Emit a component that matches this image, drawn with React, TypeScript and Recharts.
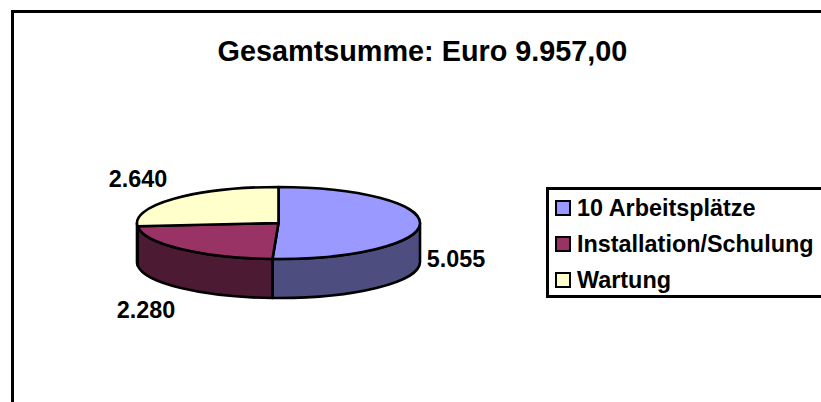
import React from 'react';
import { PieChart, Pie, Legend } from 'recharts';

const categories = ['10 Arbeitsplätze', 'Installation/Schulung', 'Wartung'];
const amounts = [5055, 2280, 2640];
const amountLabels = ['5.055', '2.280', '2.640'];
const topColors = ['#9999FF', '#993366', '#FFFFCC'];
const sideColors = ['#4D4D80', '#4D1A33', '#808066'];
// label offsets from the rim point at each slice's mid angle
const labelOffsets = [[36, 35], [-35, 61], [-36, -20]];

const pieData = categories.map((name, i) => ({
  name,
  value: amounts[i],
  fill: topColors[i],
  sideFill: sideColors[i],
  labelText: amountLabels[i],
  labelOffset: labelOffsets[i],
}));

const FONT = '"Liberation Sans", Arial, sans-serif';
const SQUASH = 0.2545;
const DEPTH = 39;
const LINE = 2.6;
const RAD = Math.PI / 180;

const rimPoint = (cx: number, cy: number, r: number, deg: number) => [
  cx + r * Math.cos(deg * RAD),
  cy - r * SQUASH * Math.sin(deg * RAD),
];

// flat pie slice with the side wall below it, recharts gives the angles
const TiltedSector = (props: any) => {
  const { cx, cy, outerRadius: r, startAngle, endAngle, fill, sideFill } = props;
  const ry = r * SQUASH;
  const [x1, y1] = rimPoint(cx, cy, r, startAngle);
  const [x2, y2] = rimPoint(cx, cy, r, endAngle);
  const large = Math.abs(startAngle - endAngle) > 180 ? 1 : 0;
  const top = `M${cx},${cy} L${x1},${y1} A${r},${ry} 0 ${large} 1 ${x2},${y2} Z`;

  // only the part of the rim facing the viewer has a wall
  let wall = null;
  const from = Math.min(startAngle, 0);
  const to = Math.max(endAngle, -180);
  if (from > to) {
    const [wx1, wy1] = rimPoint(cx, cy, r, from);
    const [wx2, wy2] = rimPoint(cx, cy, r, to);
    wall = (
      <path
        d={`M${wx1},${wy1} A${r},${ry} 0 0 1 ${wx2},${wy2} L${wx2},${wy2 + DEPTH} A${r},${ry} 0 0 0 ${wx1},${wy1 + DEPTH} Z`}
        fill={sideFill}
        stroke="#000"
        strokeWidth={LINE}
        strokeLinejoin="round"
      />
    );
  }
  return (
    <g>
      {wall}
      <path d={top} fill={fill} stroke="#000" strokeWidth={LINE} strokeLinejoin="round" />
    </g>
  );
};

const renderValueLabel = (props: any) => {
  const { cx, cy, outerRadius, midAngle, payload } = props;
  const [x, y] = rimPoint(cx, cy, outerRadius, midAngle);
  const [dx, dy] = payload.labelOffset;
  return (
    <text
      x={x + dx}
      y={y + dy}
      textAnchor="middle"
      dominantBaseline="central"
      fontFamily={FONT}
      fontWeight="bold"
      fontSize={23.4}
      fill="#000"
    >
      {payload.labelText}
    </text>
  );
};

const LegendBox = () => (
  <div
    style={{
      boxSizing: 'border-box',
      width: 300,
      height: 111,
      border: '3px solid #000',
      background: '#fff',
      fontFamily: FONT,
      fontWeight: 'bold',
      fontSize: 23.4,
      color: '#000',
    }}
  >
    {categories.map((name, i) => (
      <div key={name} style={{ display: 'flex', alignItems: 'center', height: 36, paddingLeft: 6 }}>
        <span
          style={{
            boxSizing: 'border-box',
            width: 16,
            height: 16,
            border: '2px solid #000',
            background: topColors[i],
            marginRight: 6,
          }}
        />
        {name}
      </div>
    ))}
  </div>
);

export default function App() {
  return (
    <div style={{ position: 'absolute', left: 0, top: 0, width: 821, height: 402, overflow: 'hidden', background: '#fff' }}>
      <PieChart width={821} height={402} margin={{ top: 0, right: 0, bottom: 0, left: 0 }}>
        <rect x={12.5} y={11.5} width={900} height={500} fill="#fff" stroke="#000" strokeWidth={3} />
        <text
          x={422.5}
          y={51}
          textAnchor="middle"
          dominantBaseline="central"
          fontFamily={FONT}
          fontWeight="bold"
          fontSize={28.8}
          fill="#000"
        >
          Gesamtsumme: Euro 9.957,00
        </text>
        <Pie
          data={pieData}
          dataKey="value"
          nameKey="name"
          cx={278.5}
          cy={223}
          outerRadius={141.5}
          startAngle={90}
          endAngle={-270}
          stroke="#000"
          label={renderValueLabel}
          labelLine={false}
          shape={TiltedSector}
          isAnimationActive={false}
        />
        <Legend
          content={<LegendBox />}
          layout="vertical"
          align="right"
          verticalAlign="top"
          wrapperStyle={{ left: 546, top: 187, width: 300 }}
        />
      </PieChart>
    </div>
  );
}
